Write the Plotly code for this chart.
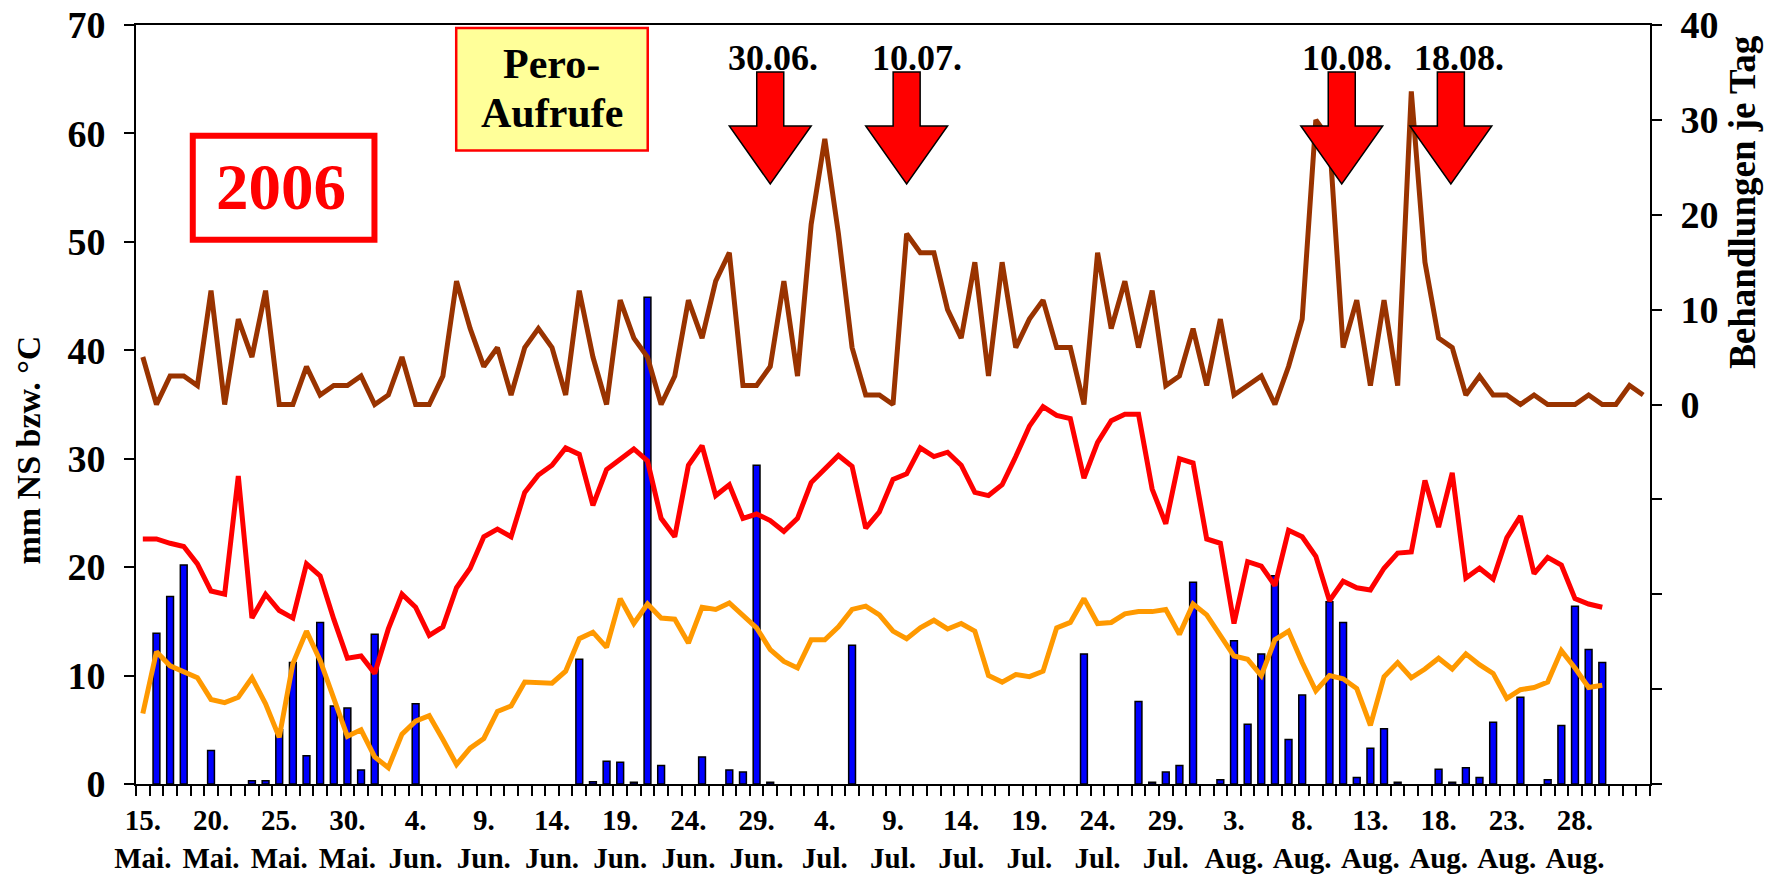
import plotly.graph_objects as go
import pandas as pd

# ---------------- data ----------------
dates = pd.date_range("2006-05-15", periods=111, freq="D")
month_de = {5: "Mai.", 6: "Jun.", 7: "Jul.", 8: "Aug.", 9: "Sep."}

# Behandlungen je Tag (right axis)
treatments = [5, 0, 3, 3, 2, 12, 0, 9, 5, 12, 0, 0, 4, 1, 2,
              2, 3, 0, 1, 5, 0, 0, 3, 13, 8, 4, 6, 1, 6, 8, 6, 1,
              12, 5, 0, 11, 7, 5, 0, 3, 11, 7, 13, 16, 2, 2, 4, 13, 3,
              19, 28, 18, 6, 1, 1, 0, 18, 16, 16, 10, 7, 15, 3, 15, 6,
              9, 11, 6, 6, 0, 16, 8, 13, 6, 12, 2, 3, 8, 2, 9, 1, 2,
              3, 0, 4, 9, 30, 28, 6, 11, 2, 11, 2, 33, 15, 7, 6, 1, 3, 1, 1, 0, 1, 0, 0, 0, 1, 0, 0, 2, 1]

# Temperature max (red), °C
temp_max = [22.6, 22.6, 22.2, 21.9, 20.3, 17.8, 17.5, 28.4, 15.3, 17.5, 16.0, 15.3, 20.3, 19.2, 15.2,
            11.6, 11.8, 10.2, 14.3, 17.5, 16.3, 13.7, 14.5, 18.1, 19.9, 22.8, 23.5, 22.8, 26.9, 28.5, 29.4, 31.0,
            30.4, 25.7, 29.0, 29.9, 30.9, 29.8, 24.5, 22.8, 29.4, 31.2, 26.6, 27.6, 24.5, 24.9, 24.3, 23.3, 24.5,
            27.8, 29.0, 30.3, 29.3, 23.6, 25.1, 28.1, 28.6, 31.0, 30.2, 30.6, 29.4, 26.9, 26.6, 27.6, 30.2,
            33.0, 34.8, 34.0, 33.7, 28.2, 31.5, 33.5, 34.1, 34.1, 27.2, 24.0, 30.0, 29.6, 22.6, 22.2, 14.8, 20.5,
            20.1, 18.3, 23.4, 22.8, 21.0, 16.9, 18.7, 18.1, 17.9, 19.9, 21.3, 21.4, 28.0, 23.7, 28.7, 19.0,
            19.9, 18.9, 22.7, 24.7, 19.4, 20.9, 20.2, 17.1, 16.6, 16.3,
            None, None, None]

# Temperature (orange), °C
temp_min = [6.5, 12.2, 10.9, 10.4, 9.8, 7.8, 7.5, 8.0, 9.8, 7.4, 4.3, 11.1, 14.1, 11.4, 8.0,
            4.4, 5.0, 2.5, 1.5, 4.6, 5.8, 6.3, 4.1, 1.8, 3.3, 4.2, 6.7, 7.2, 9.4, 9.3, 9.3, 10.4,
            13.4, 14.0, 12.6, 17.1, 14.8, 16.6, 15.3, 15.2, 13.0, 16.3, 16.1, 16.7, 15.5, 14.4, 12.4, 11.3, 10.7,
            13.3, 13.3, 14.5, 16.1, 16.4, 15.6, 14.1, 13.4, 14.4, 15.1, 14.3, 14.8, 14.1, 10.0, 9.4, 10.1,
            9.9, 10.4, 14.4, 14.9, 17.1, 14.8, 14.9, 15.7, 15.9, 15.9, 16.1, 13.8, 16.6, 15.6, 13.6, 11.8, 11.5,
            10.0, 13.3, 14.1, 11.2, 8.6, 10.0, 9.7, 8.8, 5.4, 9.9, 11.2, 9.8, 10.6, 11.6, 10.6, 12.0,
            11.0, 10.2, 7.9, 8.7, 8.9, 9.4, 12.3, 10.7, 8.9, 9.1,
            None, None, None]

# Niederschlag mm (blue bars); None = no rain
precip = [None, 13.9, 17.3, 20.2, None, 3.1, None, None, 0.3, 0.3, 5.0, 11.2, 2.6, 14.9, 7.2,
          7.0, 1.3, 13.8, None, None, 7.4, None, None, None, None, None, None, None, None, None, None, None,
          11.5, 0.2, 2.1, 2.0, 0.15, 44.9, 1.7, None, None, 2.5, None, 1.3, 1.1, 29.4, 0.15, None, None,
          None, None, None, 12.8, None, None, None, None, None, None, None, None, None, None, None, None,
          None, None, None, None, 12.0, None, None, None, 7.6, 0.15, 1.1, 1.7, 18.6, None, 0.4, 13.2, 5.5,
          12.0, 19.2, 4.1, 8.2, None, 16.8, 14.9, 0.6, 3.3, 5.1, 0.15, None, None, 1.35, 0.15, 1.5,
          0.6, 5.7, None, 8.0, None, 0.4, 5.4, 16.4, 12.4, 11.2,
          None, None, None]

arrow_labels = ["30.06.", "10.07.", "10.08.", "18.08."]

# ---------------- derived ----------------
idx = list(range(len(dates)))
label_idx = [i for i in idx if i % 5 == 0 and i <= 105]
label_text = [f"{dates[i].day}.<br>{month_de[dates[i].month]}" for i in label_idx]

FONT = "Liberation Serif"
LW = 5

fig = go.Figure()
fig.add_trace(go.Bar(x=idx, y=precip, width=0.5,
                     marker=dict(color="#0000FF", line=dict(color="black", width=1.5)),
                     yaxis="y", name="NS"))
fig.add_trace(go.Scatter(x=idx, y=temp_max, mode="lines",
                         line=dict(color="#FF0000", width=LW), yaxis="y", name="Tmax"))
fig.add_trace(go.Scatter(x=idx, y=temp_min, mode="lines",
                         line=dict(color="#FF9900", width=LW), yaxis="y", name="Tmin"))
fig.add_trace(go.Scatter(x=idx, y=treatments, mode="lines",
                         line=dict(color="#993300", width=LW), yaxis="y2", name="Behandlungen"))

shapes = []
annotations = []

# arrows
arrow_offsets = [0.0, 0.0, 0.9, 0.9]
label_offsets = [0.2, 0.75, 0.4, 0.6]
for lab, off, loff in zip(arrow_labels, arrow_offsets, label_offsets):
    d, m = lab.strip(".").split(".")
    dt = pd.Timestamp(2006, int(m), int(d))
    xc = (dt - dates[0]).days + off
    hs, hh = 0.99, 3.0
    yt, yh, ytip = 0.938, 0.867, 0.7905
    path = (f"M {xc-hs},{yt} L {xc+hs},{yt} L {xc+hs},{yh} L {xc+hh},{yh} "
            f"L {xc},{ytip} L {xc-hh},{yh} L {xc-hs},{yh} Z")
    shapes.append(dict(type="path", path=path, xref="x", yref="paper",
                       fillcolor="#FF0000", line=dict(color="black", width=1.5), layer="above"))
    annotations.append(dict(x=xc + loff, y=0.957, xref="x", yref="paper", text=f"<b>{lab}</b>",
                            showarrow=False, font=dict(family=FONT, size=36, color="black"),
                            xanchor="center", yanchor="middle"))

# 2006 box
shapes.append(dict(type="rect", xref="paper", yref="paper", x0=0.0375, x1=0.1575, y0=0.717, y1=0.854,
                   line=dict(color="#FF0000", width=6), fillcolor="white", layer="above"))
annotations.append(dict(x=0.0955, y=0.787, xref="paper", yref="paper", text="<b>2006</b>",
                        showarrow=False, font=dict(family=FONT, size=65, color="#FF0000"),
                        xanchor="center", yanchor="middle"))

# Pero-Aufrufe box
shapes.append(dict(type="rect", xref="paper", yref="paper", x0=0.2115, x1=0.338, y0=0.8345, y1=0.996,
                   line=dict(color="#FF0000", width=2.5), fillcolor="#FFFF99", layer="above"))
for txt, yy in (("Pero-", 0.948), ("Aufrufe", 0.884)):
    annotations.append(dict(x=0.2745, y=yy, xref="paper", yref="paper", text=f"<b>{txt}</b>",
                            showarrow=False, font=dict(family=FONT, size=42, color="black"),
                            xanchor="center", yanchor="middle"))

# axis titles
annotations.append(dict(x=-0.071, y=0.44, xref="paper", yref="paper", text="<b>mm NS bzw. °C</b>",
                        textangle=-90, showarrow=False, font=dict(family=FONT, size=34, color="black"),
                        xanchor="center", yanchor="middle"))
annotations.append(dict(x=1.0614, y=0.767, xref="paper", yref="paper", text="<b>Behandlungen je Tag</b>",
                        textangle=-90, showarrow=False, font=dict(family=FONT, size=37, color="black"),
                        xanchor="center", yanchor="middle"))

fig.update_layout(
    template="none",
    width=1775, height=878,
    margin=dict(l=136, r=125, t=25, b=94, autoexpand=False),
    showlegend=False,
    plot_bgcolor="white", paper_bgcolor="white",
    font=dict(family=FONT, color="black"),
    shapes=shapes, annotations=annotations,
    xaxis=dict(range=[-0.5, len(dates) - 0.5], tickmode="array", tickvals=label_idx, ticktext=label_text,
               ticks="", showline=True, linecolor="black", linewidth=2, mirror=True,
               showgrid=False, zeroline=False, automargin=False,
               tickfont=dict(family=FONT, size=29, color="black", weight="bold"),
               ticklabelstandoff=9,
               minor=dict(ticks="outside", tick0=-0.5, dtick=1, ticklen=10, tickcolor="black",
                          tickwidth=1.5, showgrid=False)),
    yaxis=dict(range=[0, 70], tickmode="array", tickvals=list(range(0, 71, 10)),
               ticks="outside", ticklen=10, tickwidth=2, tickcolor="black",
               showline=True, linecolor="black", linewidth=2, showgrid=False, zeroline=False,
               automargin=False,
               tickfont=dict(family=FONT, size=38, color="black", weight="bold"),
               ticklabelstandoff=11),
    yaxis2=dict(range=[-40, 40], overlaying="y", side="right", tickmode="array",
                tickvals=list(range(-40, 41, 10)),
                ticktext=["", "", "", "", "0", "10", "20", "30", "40"],
                ticks="outside", ticklen=10, tickwidth=2, tickcolor="black",
                showline=True, linecolor="black", linewidth=2, showgrid=False, zeroline=False,
                automargin=False,
                tickfont=dict(family=FONT, size=38, color="black", weight="bold"),
                ticklabelstandoff=11),
)

fig.write_html("out.html", config={"displayModeBar": False},
               post_script="document.body.style.margin='0';document.body.style.overflow='hidden';")
